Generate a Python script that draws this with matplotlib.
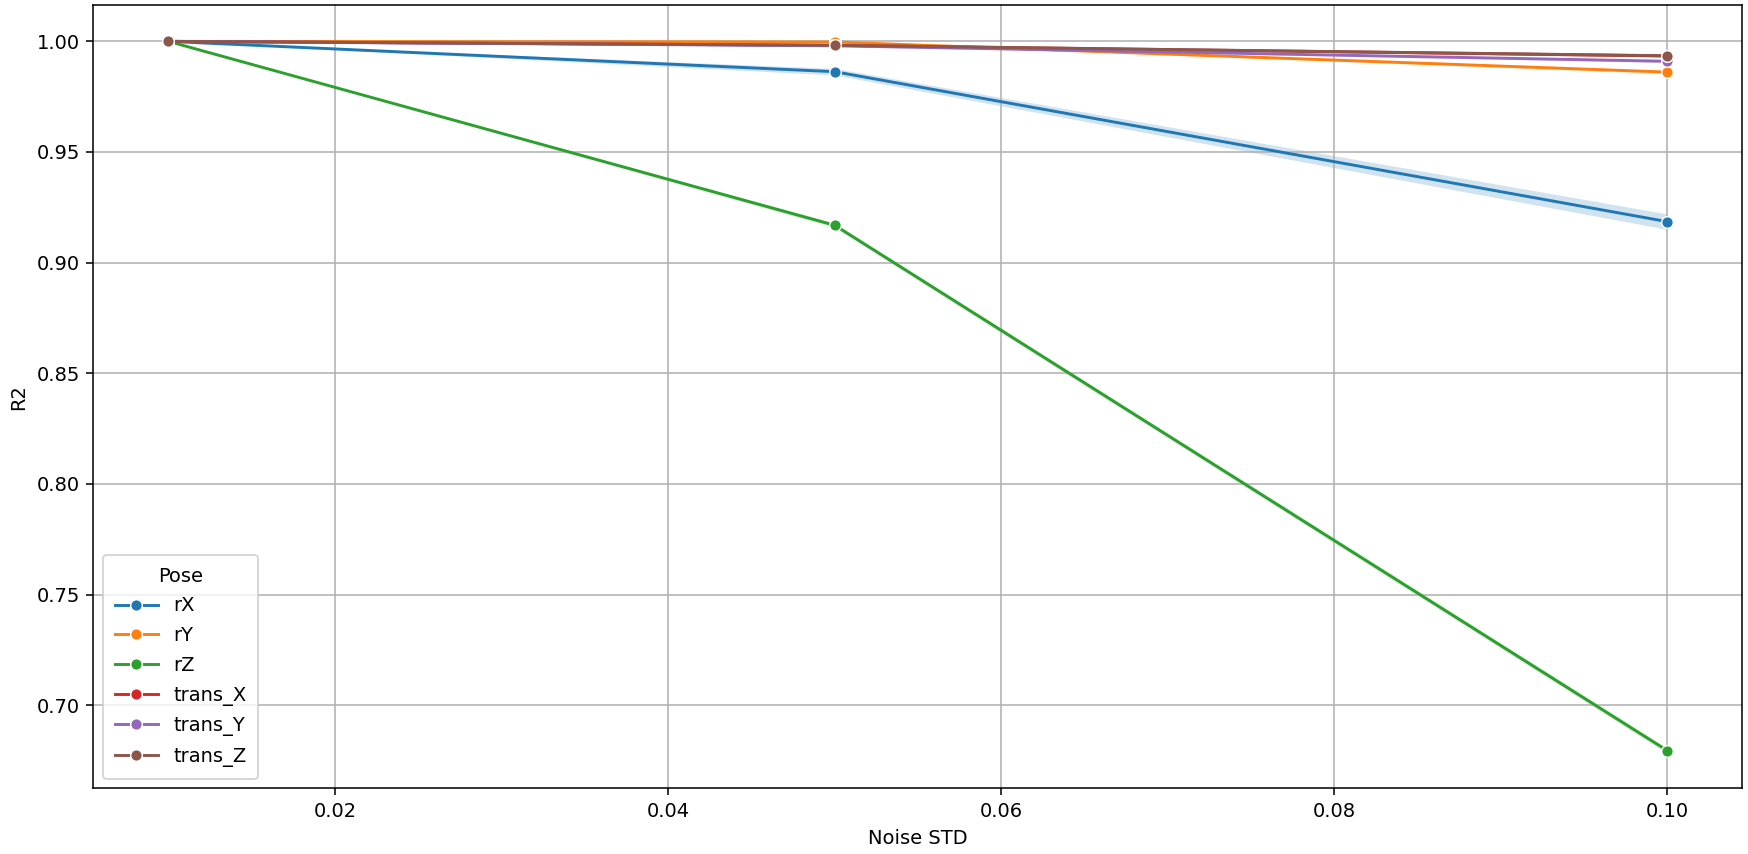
import numpy as np
import matplotlib
matplotlib.use("Agg")
import matplotlib.pyplot as plt

# Noise levels and mean R2 per pose component
noise_std = [0.01, 0.05, 0.10]
poses = ["rX", "rY", "rZ", "trans_X", "trans_Y", "trans_Z"]
r2_mean = {
    "rX":      [1.0000, 0.9863, 0.9185],
    "rY":      [1.0000, 0.9997, 0.9861],
    "rZ":      [1.0000, 0.9169, 0.6794],
    "trans_X": [1.0000, 0.9982, 0.9934],
    "trans_Y": [1.0000, 0.9980, 0.9910],
    "trans_Z": [1.0000, 0.9982, 0.9935],
}
# half width of the confidence band
r2_ci = {
    "rX":      [0.0000, 0.0015, 0.0035],
    "rY":      [0.0000, 0.0002, 0.0008],
    "rZ":      [0.0000, 0.0010, 0.0012],
    "trans_X": [0.0000, 0.0003, 0.0006],
    "trans_Y": [0.0000, 0.0003, 0.0006],
    "trans_Z": [0.0000, 0.0003, 0.0006],
}
colors = ["#1f77b4", "#ff7f0e", "#2ca02c", "#d62728", "#9467bd", "#8c564b"]

fig = plt.figure(figsize=(1748 / 140, 854 / 140), dpi=140)
ax = fig.add_axes([0.0534, 0.0769, 0.9434, 0.9169])

for pose, c in zip(poses, colors):
    m = np.array(r2_mean[pose])
    e = np.array(r2_ci[pose])
    ax.fill_between(noise_std, m - e, m + e, color=c, alpha=0.2, linewidth=0)
    ax.plot(noise_std, m, color=c, marker="o", markersize=6,
            markeredgecolor="w", markeredgewidth=0.75, linewidth=1.5, label=pose)

ax.set_xlim(0.0055, 0.1045)
ax.set_ylim(0.6624, 1.0163)
ax.set_xticks([0.02, 0.04, 0.06, 0.08, 0.10])
ax.set_yticks([0.70, 0.75, 0.80, 0.85, 0.90, 0.95, 1.00])
ax.set_xlabel("Noise STD")
ax.set_ylabel("R2")
ax.grid(True)
ax.legend(title="Pose", loc="lower left", handlelength=2.2, borderpad=0.6,
          labelspacing=0.55)

fig.savefig("out.png", dpi=140)
